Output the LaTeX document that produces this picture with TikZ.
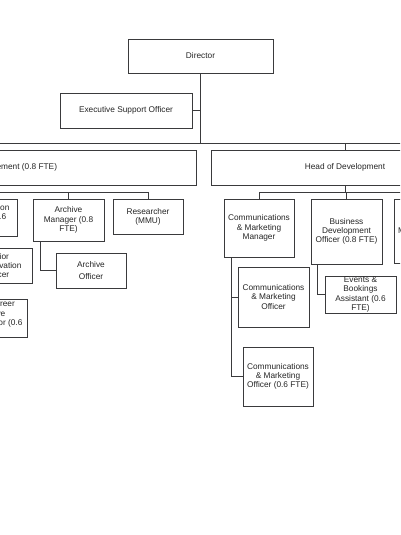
\documentclass[tikz,border=0pt]{standalone}
\usepackage{fontspec}
\setmainfont{Liberation Sans}
\definecolor{linecol}{HTML}{3A3A3C}
\definecolor{txtcol}{HTML}{262626}
\tikzset{
  orgbox/.style={draw=linecol, line width=0.9pt, fill=white, align=center,
    inner sep=1pt, text=txtcol, font=\fontsize{8.3}{9.2}\selectfont},
  bx/.style 2 args={minimum width=#1pt, minimum height=#2pt},
  link/.style={draw=linecol, line width=0.9pt}
}
\begin{document}
\begin{tikzpicture}[x=1pt,y=-1pt]
\useasboundingbox (0,0) rectangle (400,535);
\fill[white] (0,0) rectangle (400,535);
\clip (0,0) rectangle (400,535);

% top level
\node[orgbox, bx={145}{34}] (director) at (200.5,56) {Director};
\node[orgbox, bx={132}{35}] (eso) at (126,110.5) {Executive Support Officer};
\node[orgbox, bx={438}{35}] (hcm) at (-23,167.5) {Head of Collections Management (0.8 FTE)};
\node[orgbox, bx={268}{35}] (hod) at (345,167.5) {Head of Development};

% left subtree
\node[orgbox, bx={71}{37}] (docm) at (-18.5,217.5) {Documentation\\Manager (0.6\\FTE)};
\node[orgbox, bx={71}{42}] (am) at (68.5,220) {Archive\\Manager (0.8\\FTE)};
\node[orgbox, bx={70}{35}] (res) at (148,216.5) {Researcher\\(MMU)};
\node[orgbox, bx={70}{35}, font=\fontsize{8.3}{12}\selectfont] (ao) at (91,270.5) {Archive\\Officer};
\node[orgbox, bx={70}{35}] (sco) at (-3,265.5) {Senior\\Conservation\\Officer};
\node[orgbox, bx={71}{35}] (eca) at (-8.5,318.5) {Early Career\\Archive\\Conservator (0.6\\FTE)};

% right subtree
\node[orgbox, bx={70}{58}] (cmm) at (259,228) {Communications\\\& Marketing\\Manager};
\node[orgbox, bx={71}{65}] (bdo) at (346.5,231.5) {Business\\Development\\Officer (0.8 FTE)};
\node[orgbox, bx={54}{64}] (rbox) at (421,231) {Visitor\\Membership\\Manager};
\node[orgbox, bx={71}{60}] (cmo) at (273.5,297) {Communications\\\& Marketing\\Officer};
\node[orgbox, bx={71}{35}] (eba) at (360.5,294.5) {Events \&\\Bookings\\Assistant (0.6\\FTE)};
\node[orgbox, bx={70}{59}] (cmo6) at (278,376.5) {Communications\\\& Marketing\\Officer (0.6 FTE)};

% connectors
\coordinate (bus1) at (200.5,143);
\coordinate (busR) at (480,143);
\draw[link] (director.south) -- (bus1);
\draw[link] (eso.east) -- (eso.east -| director.south);
\draw[link] (bus1) -| (hod.north);
\draw[link] (bus1) -| (hcm.north);
\draw[link] (bus1) -- (busR);

\coordinate (b2) at (-23,192.5);
\draw[link] (hcm.south) -- (b2);
\draw[link] (b2) -| (docm.north);
\draw[link] (b2) -| (am.north);
\draw[link] (b2) -| (res.north);
\draw[link] ([xshift=8pt]am.south west) |- (ao.west);

\coordinate (b3) at (345,192.5);
\draw[link] (hod.south) -- (b3);
\draw[link] (b3) -| (cmm.north);
\draw[link] (b3) -| (bdo.north);
\draw[link] (b3) -| (rbox.north);
\draw[link] ([xshift=8pt]cmm.south west) |- (cmo6.west);
\draw[link] ([xshift=8pt]cmm.south west) |- (cmo.west);
\draw[link] ([xshift=7pt]bdo.south west) |- (eba.west);
\end{tikzpicture}
\end{document}
